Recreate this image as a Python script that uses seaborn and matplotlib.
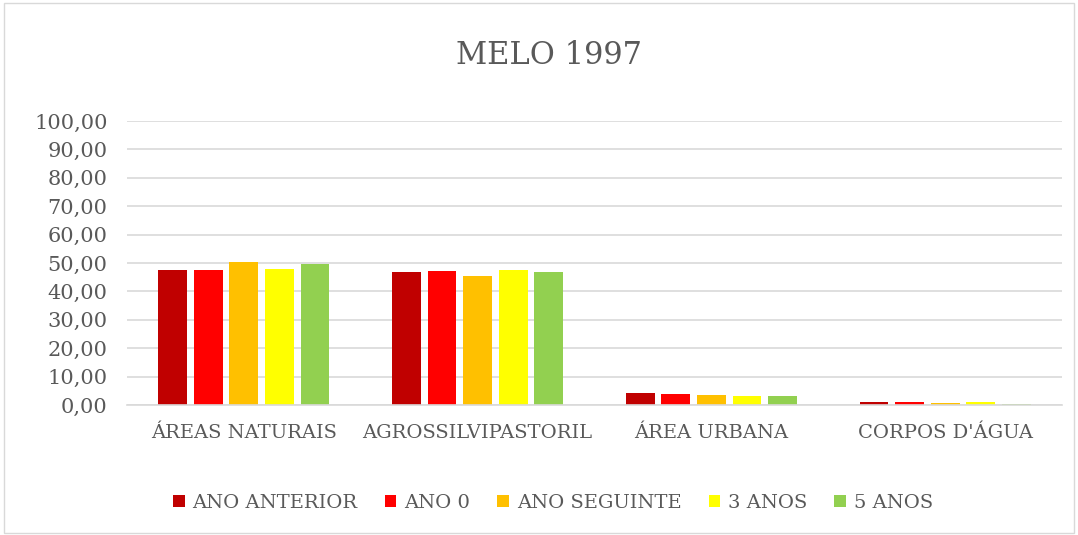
import matplotlib
matplotlib.use("Agg")
import matplotlib.pyplot as plt
import seaborn as sns
import pandas as pd
from matplotlib.ticker import FuncFormatter

categories = ["ÁREAS NATURAIS", "AGROSSILVIPASTORIL", "ÁREA URBANA", "CORPOS D'ÁGUA"]
series_names = ["ANO ANTERIOR", "ANO 0", "ANO SEGUINTE", "3 ANOS", "5 ANOS"]
ano_anterior = [47.5, 46.9, 4.1, 1.2]
ano_0 = [47.6, 47.2, 3.8, 1.2]
ano_seguinte = [50.2, 45.3, 3.4, 0.8]
tres_anos = [47.9, 47.6, 3.0, 1.2]
cinco_anos = [49.5, 46.7, 3.0, 0.5]
colors = ["#C00000", "#FF0000", "#FFC000", "#FFFF00", "#92D050"]
yticks = [0, 10, 20, 30, 40, 50, 60, 70, 80, 90, 100]

sns.set_theme(style="white")
plt.rcParams['font.family'] = ['DejaVu Serif']

rows = []
for name, vals in zip(series_names, [ano_anterior, ano_0, ano_seguinte, tres_anos, cinco_anos]):
    for c, v in zip(categories, vals):
        rows.append({"cat": c, "serie": name, "val": v})
df = pd.DataFrame(rows)

fig = plt.figure(figsize=(10.78, 5.35), dpi=100)
ax = fig.add_axes([127/1078, 1-405/535, (1062-127)/1078, (405-121)/535])
sns.barplot(data=df, x="cat", y="val", hue="serie", hue_order=series_names,
            order=categories, palette=colors, width=0.76, gap=0.19, ax=ax,
            errorbar=None, saturation=1, legend=True, linewidth=0)
ax.set_ylim(0, 100)
ax.set_yticks(yticks)
ax.yaxis.set_major_formatter(FuncFormatter(lambda v, p: f"{v:.2f}".replace(".", ",")))
ax.grid(axis="y", color="#D9D9D9", linewidth=1.2)
ax.set_axisbelow(True)
for s in ["top", "right", "left"]:
    ax.spines[s].set_visible(False)
ax.spines["bottom"].set_color("#D9D9D9")
ax.spines["bottom"].set_linewidth(1.2)
ax.set_xlabel("")
ax.set_ylabel("")
ax.tick_params(axis="both", length=0, labelcolor="#595959")
ax.tick_params(axis="y", pad=14, labelsize=15)
ax.tick_params(axis="x", pad=14, labelsize=14)
fig.text(549/1078, 1-55/535, "MELO 1997", ha="center", va="center", fontsize=22, color="#595959")
ax.legend_.remove()
handles, labels = ax.get_legend_handles_labels()
fig.legend(handles, labels, loc="center", bbox_to_anchor=(553/1078, 1-503/535), ncol=5,
           frameon=False, fontsize=14, labelcolor="#595959", handlelength=0.6,
           handleheight=0.6, handletextpad=0.4, columnspacing=1.4)
border = plt.Rectangle((0.004, 0.004), 0.992, 0.99, transform=fig.transFigure,
                       fill=False, edgecolor="#D9D9D9", linewidth=1)
fig.patches.append(border)
fig.savefig("out.png", dpi=100)
